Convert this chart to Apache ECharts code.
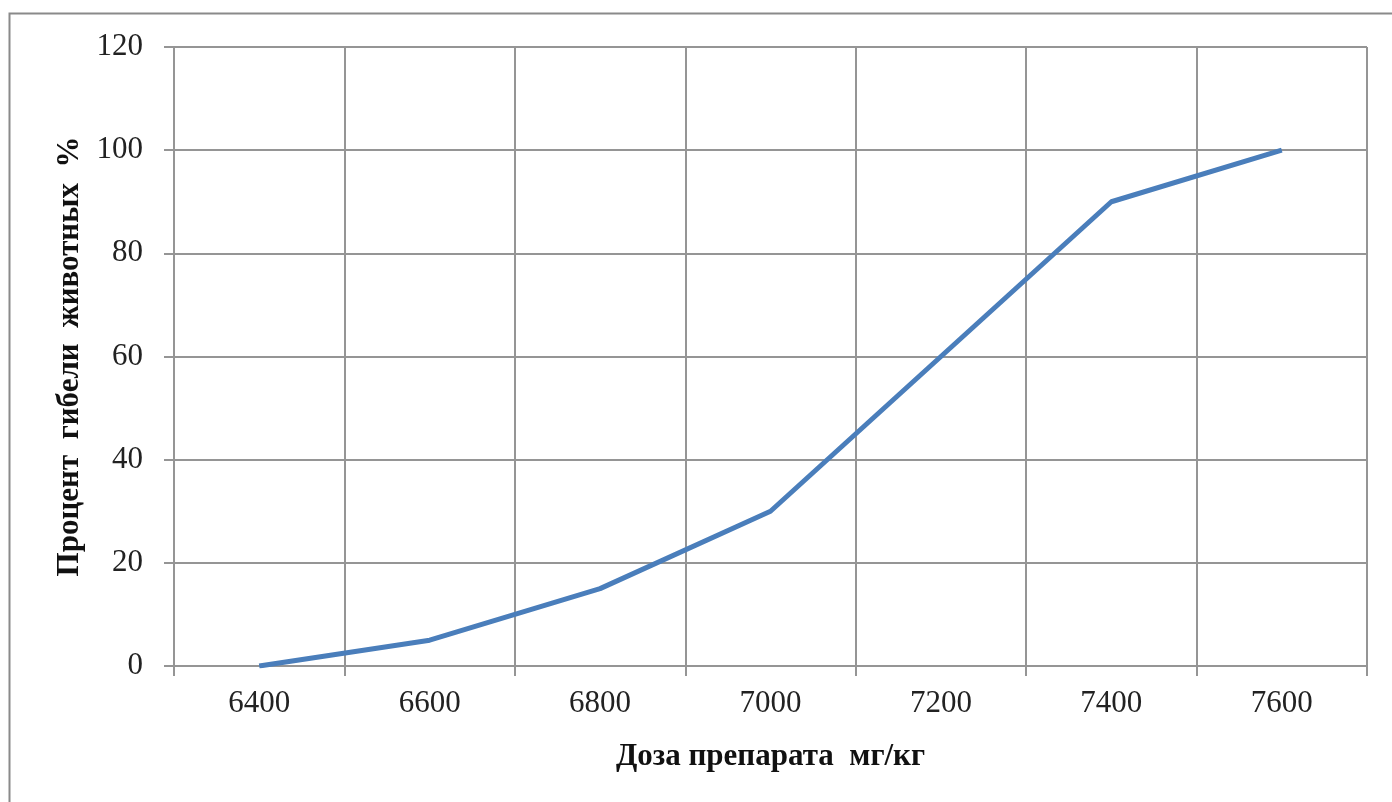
<!DOCTYPE html>
<html><head><meta charset="utf-8">
<script src="https://cdn.jsdelivr.net/npm/echarts@6/dist/echarts.min.js"></script>
<style>html,body{margin:0;padding:0;background:#fff}#c{width:1392px;height:802px}</style>
</head><body><div id="c"></div>
<script>
const categories = ['6400','6600','6800','7000','7200','7400','7600'];
const mortality = [0, 5, 15, 30, 60, 90, 100];
const xTitle = 'Доза препарата  мг/кг';
const yTitle = 'Процент  гибели  животных  %';

const chart = echarts.init(document.getElementById('c'), null, {renderer:'canvas'});
const font = '"Liberation Serif", "Times New Roman", serif';
const gridColor = '#959595';
chart.setOption({
  animation: false,
  backgroundColor: '#fff',
  graphic: [{type:'rect', shape:{x:9.5,y:13.5,width:1450,height:850}, style:{fill:null, stroke:'#8a8a8a', lineWidth:2}}],
  grid: {left:174, right:25, top:47, bottom:136},
  xAxis: {
    type:'category', data: categories, boundaryGap:true,
    name: xTitle, nameLocation:'middle', nameGap:75,
    nameTextStyle:{fontFamily:font, fontWeight:'bold', fontSize:31, color:'#111'},
    axisLine:{lineStyle:{color:gridColor, width:2}},
    axisTick:{show:true, length:10, interval:0, lineStyle:{color:gridColor, width:2}},
    axisLabel:{fontFamily:font, fontSize:31, color:'#222', margin:22, interval:0},
    splitLine:{show:true, interval:0, lineStyle:{color:gridColor, width:2}}
  },
  yAxis: {
    type:'value', min:0, max:120, interval:20,
    name: yTitle, nameLocation:'middle', nameGap:89,
    nameTextStyle:{fontFamily:font, fontWeight:'bold', fontSize:31, color:'#111'},
    axisLine:{show:true, lineStyle:{color:gridColor, width:2}},
    axisTick:{show:true, length:10, lineStyle:{color:gridColor, width:2}},
    axisLabel:{fontFamily:font, fontSize:31, color:'#222', margin:31},
    splitLine:{show:true, lineStyle:{color:gridColor, width:2}}
  },
  series: [{
    type:'line', data: mortality, symbol:'none',
    lineStyle:{color:'#4a7ebb', width:5}
  }]
});
</script></body></html>
